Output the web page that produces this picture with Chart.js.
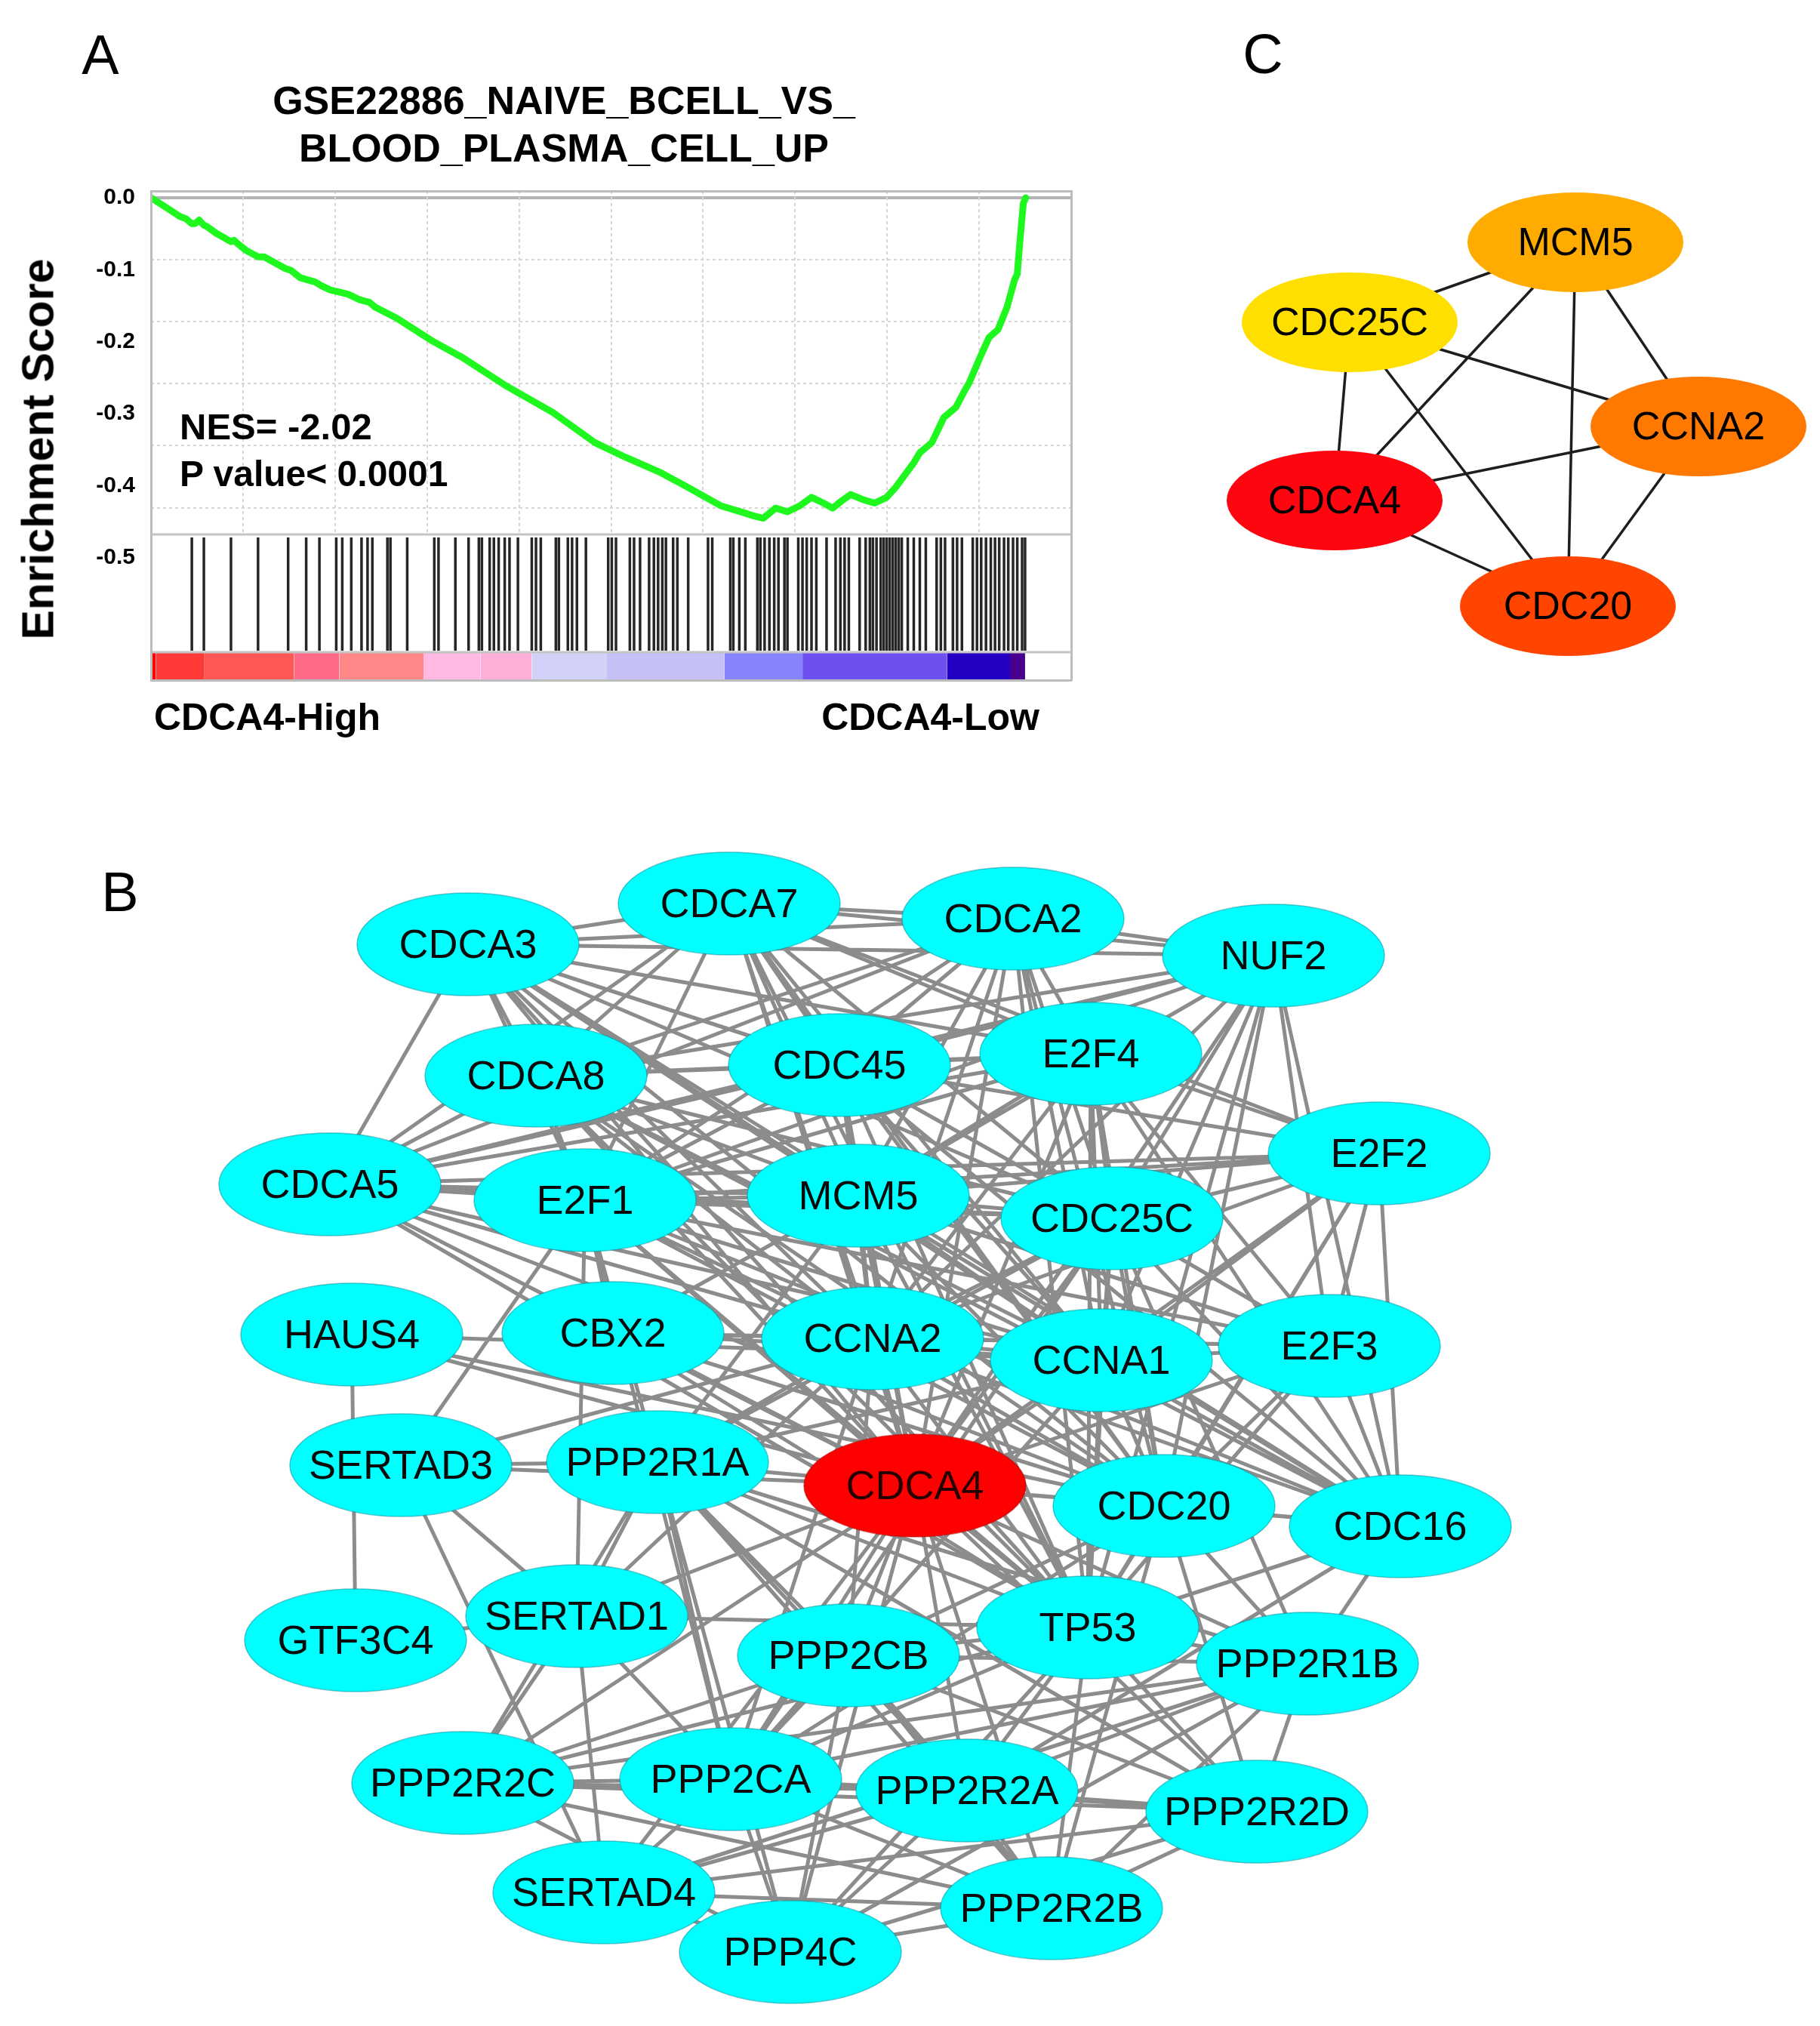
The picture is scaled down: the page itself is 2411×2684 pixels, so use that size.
<!DOCTYPE html>
<html><head><meta charset="utf-8">
<script src="https://cdn.jsdelivr.net/npm/chart.js@4.4.1/dist/chart.umd.min.js"></script>
<style>
html,body{margin:0;padding:0;background:#fff;}
body{width:2411px;height:2684px;position:relative;overflow:hidden;font-family:"Liberation Sans",Arial,sans-serif;}
canvas{position:absolute;}
.lbl{position:absolute;white-space:nowrap;color:#000;line-height:1;}
.c{transform:translate(-50%,-50%);}
.l{transform:translateY(-50%);}
.r{transform:translate(-100%,-50%);}
.v{transform:translate(-50%,-50%) rotate(-90deg);}
</style></head><body>
<canvas id="gsea" width="1450" height="1000" style="left:0;top:0;width:1450px;height:1000px"></canvas>
<canvas id="netB" width="2411" height="1584" style="left:0;top:1100px;width:2411px;height:1584px"></canvas>
<canvas id="netC" width="911" height="800" style="left:1500px;top:150px;width:911px;height:800px"></canvas>

<div class="lbl c" style="left:133px;top:73px;font-size:74px">A</div>
<div class="lbl c" style="left:1673px;top:72px;font-size:74px">C</div>
<div class="lbl c" style="left:159px;top:1182px;font-size:74px">B</div>
<div class="lbl v" style="left:51px;top:595px;font-size:59px;font-weight:bold">Enrichment Score</div>
<div class="lbl l" style="left:238px;top:565px;font-size:49px;font-weight:bold">NES= -2.02</div>
<div class="lbl l" style="left:238px;top:628px;font-size:48px;font-weight:bold">P value&lt; 0.0001</div>
<div class="lbl l" style="left:204px;top:950px;font-size:50px;font-weight:bold">CDCA4-High</div>
<div class="lbl r" style="left:1377px;top:950px;font-size:50px;font-weight:bold">CDCA4-Low</div>

<script>
// ================= DATA =================
// Panel A: GSEA running enrichment score
const titleLines = ['GSE22886_NAIVE_BCELL_VS_', 'BLOOD_PLASMA_CELL_UP'];
const esRanks = [0,379,650,786,921,989,1084,1192,1260,1464,1803,1870,1938,2141,2413,2548,3021,3158,3362,3701,3836,4040,4311,4446,4718,4921,5056,5531,6345,7023,7972,9056,10005,10683,11497,12039,12853,13395,13598,13801,14073,14344,14615,14886,15157,15361,15565,15768,16038,16310,16581,16784,17191,17327,17598,17869,18140,18344,18439,18682,18886,19089,19292,19468,19523,19578,19659,19713];
const esScores = [0,-0.015,-0.026,-0.029,-0.036,-0.036,-0.031,-0.038,-0.040,-0.049,-0.061,-0.059,-0.063,-0.073,-0.082,-0.082,-0.098,-0.101,-0.111,-0.117,-0.122,-0.128,-0.132,-0.134,-0.142,-0.145,-0.152,-0.167,-0.199,-0.222,-0.260,-0.298,-0.340,-0.360,-0.382,-0.400,-0.428,-0.438,-0.442,-0.445,-0.431,-0.436,-0.428,-0.416,-0.424,-0.431,-0.421,-0.412,-0.419,-0.424,-0.416,-0.402,-0.368,-0.354,-0.340,-0.305,-0.291,-0.267,-0.257,-0.222,-0.194,-0.183,-0.152,-0.113,-0.106,-0.064,-0.008,0];
const hitRanks = [921,1192,1803,2413,3091,3498,3796,4175,4311,4514,4745,4881,4989,5328,5396,5775,6385,6480,6860,7158,7389,7457,7633,7728,7836,7972,8080,8270,8582,8677,8785,9124,9192,9395,9490,9599,9802,10304,10385,10480,10792,10887,11022,11226,11334,11429,11524,11605,11768,11863,12107,12554,12649,13056,13124,13259,13395,13666,13734,13829,13937,14046,14141,14276,14344,14588,14683,14778,14886,14995,15225,15429,15537,15632,15727,15971,16107,16201,16269,16351,16446,16513,16581,16649,16717,16784,16852,16920,17056,17191,17327,17462,17706,17801,17896,18073,18167,18276,18520,18615,18710,18818,18927,19022,19116,19225,19320,19428,19523,19632,19699];
const rankBarEdges = [0,108,1192,3226,4243,6141,7429,8582,10276,12920,14683,17937,19360,19699];
const rankBarColors = ['#ff0000','#ff3838','#ff5656','#ff6a88','#ff8787','#ffb9e2','#ffaed8','#d2d2f8','#c5c0f5','#8684fb','#6e50f0','#2400c4','#4a008e'];
const esTickValues = [0,-0.1,-0.2,-0.3,-0.4,-0.5];
const esGridValues = [0,-0.1,-0.2,-0.3,-0.4,-0.5];
const rankGridStep = 2000;

// Panel B: PPI network (node layout coordinates)
const netBNodes = ['CDCA3','CDCA7','CDCA2','NUF2','CDCA8','CDC45','E2F4','E2F2','CDCA5','E2F1','MCM5','CDC25C','HAUS4','CBX2','CCNA2','CCNA1','E2F3','SERTAD3','PPP2R1A','CDCA4','CDC20','CDC16','GTF3C4','SERTAD1','PPP2CB','TP53','PPP2R1B','PPP2R2C','PPP2CA','PPP2R2A','PPP2R2D','SERTAD4','PPP2R2B','PPP4C'];
const netBX = [620,966,1342,1687,710,1112,1445,1827,437,775,1137,1473,466,812,1156,1459,1761,531,871,1212,1542,1855,471,764,1124,1441,1732,613,968,1281,1665,800,1393,1047];
const netBY = [1251,1197,1217,1266,1425,1411,1396,1528,1569,1590,1584,1614,1768,1766,1773,1802,1783,1941,1937,1968,1995,2022,2173,2141,2193,2156,2204,2362,2357,2372,2400,2507,2528,2586];
const netBHighlight = ['CDCA4'];
const netBEdges = [
"CDCA3-CDCA7","CDCA3-CDCA2","CDCA3-NUF2","CDCA3-CDCA5","CDCA3-CDCA8","CDCA3-E2F1","CDCA3-MCM5","CDCA3-CDC45","CDCA3-CCNA2","CDCA3-CCNA1","CDCA3-CDC25C","CDCA3-CDCA4","CDCA3-CDC20","CDCA3-E2F4","CDCA3-TP53","CDCA3-CDC16",
"CDCA7-CDCA2","CDCA7-NUF2","CDCA7-CDCA8","CDCA7-CDCA5","CDCA7-E2F1","CDCA7-MCM5","CDCA7-CDC45","CDCA7-CCNA2","CDCA7-CDC25C","CDCA7-CDCA4","CDCA7-E2F4","CDCA7-E2F2","CDCA7-CDC20","CDCA7-CCNA1","CDCA7-TP53",
"CDCA2-NUF2","CDCA2-CDCA8","CDCA2-CDCA5","CDCA2-E2F1","CDCA2-MCM5","CDCA2-CDC45","CDCA2-CCNA2","CDCA2-CDC25C","CDCA2-CDCA4","CDCA2-CDC20","CDCA2-E2F4","CDCA2-CCNA1","CDCA2-TP53",
"NUF2-CDCA8","NUF2-CDCA5","NUF2-CDC45","NUF2-E2F1","NUF2-MCM5","NUF2-CCNA2","NUF2-CDC25C","NUF2-CCNA1","NUF2-CDCA4","NUF2-CDC20","NUF2-CDC16","NUF2-E2F3","NUF2-TP53",
"CDCA8-CDC45","CDCA8-CDCA5","CDCA8-E2F1","CDCA8-MCM5","CDCA8-CCNA2","CDCA8-CDC25C","CDCA8-CCNA1","CDCA8-CDCA4","CDCA8-CDC20","CDCA8-E2F4","CDCA8-TP53","CDCA8-CDC16",
"CDC45-E2F4","CDC45-MCM5","CDC45-E2F1","CDC45-CDC25C","CDC45-CCNA2","CDC45-CCNA1","CDC45-CDCA4","CDC45-CDC20","CDC45-E2F2","CDC45-CDCA5","CDC45-TP53","CDC45-CDC16",
"E2F4-E2F2","E2F4-E2F1","E2F4-MCM5","E2F4-CDC25C","E2F4-CCNA2","E2F4-CCNA1","E2F4-CDCA4","E2F4-CDC20","E2F4-TP53","E2F4-E2F3","E2F4-CDCA5","E2F4-CDC16",
"E2F2-E2F1","E2F2-MCM5","E2F2-CDC25C","E2F2-CCNA2","E2F2-CCNA1","E2F2-CDCA4","E2F2-E2F3","E2F2-CDC20","E2F2-TP53","E2F2-CDC16","E2F2-CDCA5",
"CDCA5-E2F1","CDCA5-MCM5","CDCA5-CCNA2","CDCA5-CDCA4","CDCA5-CDC20","CDCA5-CCNA1","CDCA5-CDC25C","CDCA5-TP53",
"E2F1-MCM5","E2F1-CDC25C","E2F1-CCNA2","E2F1-CCNA1","E2F1-CDCA4","E2F1-CDC20","E2F1-E2F3","E2F1-TP53","E2F1-CBX2","E2F1-SERTAD1","E2F1-SERTAD3","E2F1-PPP2R1A","E2F1-CDC16","E2F1-PPP2CA",
"MCM5-CDC25C","MCM5-CCNA2","MCM5-CCNA1","MCM5-CDCA4","MCM5-CDC20","MCM5-E2F3","MCM5-TP53","MCM5-CDC16","MCM5-PPP2R1A",
"CDC25C-CCNA2","CDC25C-CCNA1","CDC25C-CDCA4","CDC25C-CDC20","CDC25C-E2F3","CDC25C-TP53","CDC25C-CDC16","CDC25C-PPP2R1A","CDC25C-PPP2CA","CDC25C-PPP2R1B",
"CBX2-CDCA4","CBX2-CCNA2","CBX2-TP53","CBX2-E2F3","CBX2-CCNA1","CBX2-CDC20","CBX2-MCM5",
"CCNA2-CCNA1","CCNA2-CDCA4","CCNA2-CDC20","CCNA2-E2F3","CCNA2-TP53","CCNA2-CDC16","CCNA2-PPP2R1A","CCNA2-PPP2CB","CCNA2-SERTAD1","CCNA2-PPP2CA",
"CCNA1-CDCA4","CCNA1-CDC20","CCNA1-E2F3","CCNA1-TP53","CCNA1-CDC16","CCNA1-PPP2CA","CCNA1-PPP2R1A",
"E2F3-CDCA4","E2F3-CDC20","E2F3-TP53","E2F3-CDC16",
"CDCA4-CDC20","CDCA4-TP53","CDCA4-CDC16","CDCA4-PPP2R1A","CDCA4-PPP2CB","CDCA4-PPP2CA","CDCA4-PPP2R2A","CDCA4-PPP2R2C","CDCA4-PPP2R1B","CDCA4-PPP2R2D","CDCA4-PPP2R2B","CDCA4-PPP4C","CDCA4-SERTAD1","CDCA4-SERTAD3","CDCA4-SERTAD4","CDCA4-HAUS4",
"CDC20-TP53","CDC20-CDC16","CDC20-PPP2CB","CDC20-PPP2R1B","CDC20-PPP2CA","CDC20-HAUS4","CDC20-PPP2R2B","CDC20-PPP2R2D",
"CDC16-TP53","CDC16-PPP2R1B","CDC16-PPP2R2A",
"TP53-PPP2CB","TP53-PPP2CA","TP53-PPP2R1A","TP53-PPP2R1B","TP53-PPP2R2A","TP53-PPP2R2B","TP53-PPP2R2C","TP53-PPP2R2D","TP53-PPP4C","TP53-SERTAD1",
"PPP2R1A-PPP2R1B","PPP2R1A-PPP2CA","PPP2R1A-PPP2CB","PPP2R1A-PPP2R2A","PPP2R1A-PPP2R2B","PPP2R1A-PPP2R2C","PPP2R1A-PPP2R2D","PPP2R1A-PPP4C",
"PPP2R1B-PPP2CA","PPP2R1B-PPP2CB","PPP2R1B-PPP2R2A","PPP2R1B-PPP2R2B","PPP2R1B-PPP2R2C","PPP2R1B-PPP2R2D","PPP2R1B-PPP4C",
"PPP2CA-PPP2CB","PPP2CA-PPP2R2A","PPP2CA-PPP2R2B","PPP2CA-PPP2R2C","PPP2CA-PPP2R2D","PPP2CA-PPP4C",
"PPP2CB-PPP2R2A","PPP2CB-PPP2R2B","PPP2CB-PPP2R2C","PPP2CB-PPP2R2D","PPP2CB-PPP4C",
"PPP2R2A-PPP2R2B","PPP2R2A-PPP2R2C","PPP2R2A-PPP2R2D","PPP2R2A-PPP4C",
"PPP2R2B-PPP2R2C","PPP2R2B-PPP2R2D","PPP2R2B-PPP4C",
"PPP2R2C-PPP2R2D","PPP2R2C-PPP4C","PPP2R2D-PPP4C",
"SERTAD1-SERTAD3","SERTAD1-GTF3C4","SERTAD1-PPP2R1A","SERTAD1-PPP2CA","SERTAD1-PPP2R2C","SERTAD1-SERTAD4",
"SERTAD3-PPP2R1A","SERTAD3-SERTAD4","SERTAD3-CCNA2",
"SERTAD4-PPP2CA","SERTAD4-PPP4C","SERTAD4-PPP2R2B","SERTAD4-PPP2R2D","SERTAD4-PPP2R1B","SERTAD4-PPP2R2A",
"HAUS4-GTF3C4","HAUS4-CCNA1"
];

// Panel C: hub genes
const netCNodes = ['MCM5','CDC25C','CCNA2','CDCA4','CDC20'];
const netCX = [2087,1788,2250,1768,2077];
const netCY = [321,427,565,663,803];
const netCColors = ['#ffab00','#ffdf00','#ff7800','#ff0510','#ff4500'];
const netCEdges = ["MCM5-CDC25C","MCM5-CCNA2","MCM5-CDCA4","MCM5-CDC20","CDC25C-CCNA2","CDC25C-CDCA4","CDC25C-CDC20","CCNA2-CDCA4","CCNA2-CDC20","CDCA4-CDC20"];

// ================= RENDERING =================
const FONT = '"Liberation Sans", Arial, Helvetica, sans-serif';
Chart.defaults.font.family = FONT;
Chart.defaults.color = '#000';

// ---- Panel A ----
const A = {rankMax: 20738, esMin: -0.66981, esMax: 0.00943, gMin: -0.77774, gMax: 0.01058,
           sep: -0.54295, cbTop: -0.73273, hitMid: -0.63905, hitHalf: 75};
const frameColor = '#bcbcbc';
const dsA = [];
dsA.push({ // white background for hit strip
  data: [{x: 0, y: A.sep}, {x: A.rankMax, y: A.sep}], yAxisID: 'yg', showLine: true,
  borderWidth: 0, borderColor: 'transparent', pointRadius: 0, fill: {value: A.gMin}, backgroundColor: '#ffffff', order: 9
});
for (let i = 0; i < rankBarColors.length; i++) {
  dsA.push({
    data: [{x: rankBarEdges[i], y: A.cbTop}, {x: rankBarEdges[i + 1], y: A.cbTop}], yAxisID: 'yg', showLine: true,
    borderWidth: 0, borderColor: 'transparent', pointRadius: 0, fill: {value: A.gMin}, backgroundColor: rankBarColors[i], order: 8
  });
}
dsA.push({ // gene hits
  data: hitRanks.map(r => ({x: r, y: A.hitMid})), yAxisID: 'yg', showLine: false,
  pointStyle: 'line', pointRotation: 90, pointRadius: A.hitHalf, pointBorderWidth: 3.5,
  pointBorderColor: 'rgba(0,0,0,0.85)', order: 5
});
dsA.push({ // panel separators
  data: [{x: 0, y: A.sep}, {x: A.rankMax, y: A.sep}, {x: A.rankMax, y: null}, {x: 0, y: A.cbTop}, {x: A.rankMax, y: A.cbTop}],
  yAxisID: 'yg', showLine: true, borderWidth: 3, borderColor: '#c4c4c4', pointRadius: 0, spanGaps: false, order: 4
});
dsA.push({ // running enrichment score
  data: esRanks.map((r, i) => ({x: r, y: esScores[i]})), yAxisID: 'y', showLine: true,
  borderColor: '#1ef81e', borderWidth: 9, pointRadius: 0, tension: 0, borderJoinStyle: 'round', borderCapStyle: 'round', order: 0
});

new Chart(document.getElementById('gsea'), {
  type: 'scatter',
  data: {datasets: dsA},
  options: {
    responsive: false, animation: false, devicePixelRatio: 1, events: [],
    layout: {autoPadding: false, padding: {left: 75, right: 31, top: 0, bottom: 99}},
    plugins: {
      legend: {display: false}, tooltip: {enabled: false},
      title: {display: true, text: titleLines, color: '#000',
              font: {family: FONT, weight: 'bold', size: 52, lineHeight: 1.2},
              padding: {top: 105.8, bottom: 22.4}}
    },
    scales: {
      y: {type: 'linear', position: 'left', min: A.esMin, max: A.esMax,
          afterBuildTicks: s => { s.ticks = esTickValues.map(v => ({value: v})); },
          afterFit: s => { s.width = 125; },
          ticks: {padding: 21, color: '#000', font: {family: FONT, weight: 'bold', size: 30},
                  callback: v => (Math.abs(v) < 1e-9 ? '0.0' : Number(v).toFixed(1))},
          grid: {display: false, drawTicks: false},
          border: {display: true, color: frameColor, width: 3, z: 1}
      },
      yg: {type: 'linear', position: 'left', min: A.gMin, max: A.gMax,
           afterBuildTicks: s => { s.ticks = esGridValues.map(v => ({value: v})); },
           afterFit: s => { s.width = 0; },
           ticks: {display: false},
           grid: {display: true, drawTicks: false,
                  color: c => (c.tick && c.tick.value === 0) ? '#b4b4b4' : '#d6d6d6',
                  lineWidth: c => (c.tick && c.tick.value === 0) ? 4 : 2},
           border: {display: false, dash: c => (c.tick && c.tick.value === 0) ? [] : [4, 4]}
      },
      x: {type: 'linear', position: 'bottom', min: 0, max: A.rankMax,
          afterFit: s => { s.height = 0; },
          ticks: {display: false, stepSize: rankGridStep},
          grid: {display: true, drawTicks: false, color: '#d6d6d6', lineWidth: 2},
          border: {display: true, color: frameColor, width: 3, z: 1, dash: [4, 4]}
      },
      x2: {type: 'linear', position: 'top', min: 0, max: 1, afterFit: s => { s.height = 0; },
           ticks: {display: false}, grid: {display: false, drawTicks: false},
           border: {display: true, color: frameColor, width: 3, z: 1}},
      y2: {type: 'linear', position: 'right', min: 0, max: 1, afterFit: s => { s.width = 0; },
           ticks: {display: false}, grid: {display: false, drawTicks: false},
           border: {display: true, color: frameColor, width: 3, z: 1}}
    }
  }
});

// ---- Networks (B and C) ----
function ellipseSprite(rx, ry, fill, stroke) {
  const c = document.createElement('canvas');
  c.width = Math.ceil(rx * 2 + 4); c.height = Math.ceil(ry * 2 + 4);
  const g = c.getContext('2d');
  g.beginPath(); g.ellipse(c.width / 2, c.height / 2, rx, ry, 0, 0, Math.PI * 2);
  g.fillStyle = fill; g.fill();
  if (stroke) { g.lineWidth = 1.5; g.strokeStyle = stroke; g.stroke(); }
  return c;
}
const nodeLabelPlugin = {
  id: 'nodeLabels',
  afterDatasetsDraw(chart, args, opts) {
    const meta = chart.getDatasetMeta(opts.datasetIndex);
    const ctx = chart.ctx;
    ctx.save();
    ctx.font = opts.font; ctx.textAlign = 'center'; ctx.textBaseline = 'middle';
    meta.data.forEach((pt, i) => {
      ctx.fillStyle = opts.colors[i];
      ctx.fillText(opts.labels[i], pt.x, pt.y + opts.dy);
    });
    ctx.restore();
  }
};
function edgePoints(names, xs, ys, edges) {
  const out = [];
  edges.forEach(e => {
    const [a, b] = e.split('-');
    const i = names.indexOf(a), j = names.indexOf(b);
    out.push({x: xs[i], y: ys[i]}, {x: xs[j], y: ys[j]}, {x: xs[j], y: null});
  });
  return out;
}
function networkChart(canvasId, box, names, xs, ys, edges, nodeSprites, edgeStyle, label) {
  new Chart(document.getElementById(canvasId), {
    type: 'scatter',
    data: {datasets: [
      {data: names.map((n, i) => ({x: xs[i], y: ys[i]})), showLine: false,
       pointStyle: nodeSprites, pointRadius: 1, order: 0},
      {data: edgePoints(names, xs, ys, edges), showLine: true, spanGaps: false,
       borderColor: edgeStyle.color, borderWidth: edgeStyle.width, pointRadius: 0, order: 1}
    ]},
    options: {
      responsive: false, animation: false, devicePixelRatio: 1, events: [],
      layout: {autoPadding: false, padding: 0},
      plugins: {legend: {display: false}, tooltip: {enabled: false},
                nodeLabels: {datasetIndex: 0, labels: names, font: label.font, colors: label.colors, dy: label.dy}},
      scales: {
        x: {type: 'linear', display: false, min: box.x0, max: box.x1},
        y: {type: 'linear', display: false, min: box.y0, max: box.y1, reverse: true}
      }
    },
    plugins: [nodeLabelPlugin]
  });
}

const cyanSprite = ellipseSprite(147, 68, '#00ffff', 'rgba(0,150,160,0.55)');
const redSprite = ellipseSprite(147, 68, '#ff0000', 'rgba(170,0,0,0.5)');
networkChart('netB', {x0: 0, x1: 2411, y0: 1100, y1: 2684}, netBNodes, netBX, netBY, netBEdges,
  netBNodes.map(n => netBHighlight.includes(n) ? redSprite : cyanSprite),
  {color: '#8c8c8c', width: 5},
  {font: '54px ' + FONT, colors: netBNodes.map(n => netBHighlight.includes(n) ? '#260000' : '#0a0a0a'), dy: 3});

networkChart('netC', {x0: 1500, x1: 2411, y0: 150, y1: 950}, netCNodes, netCX, netCY, netCEdges,
  netCColors.map(c => ellipseSprite(143, 66, c, null)),
  {color: '#1e1e1e', width: 3.5},
  {font: '52px ' + FONT, colors: netCNodes.map(() => '#000'), dy: 3});
</script>
</body></html>
